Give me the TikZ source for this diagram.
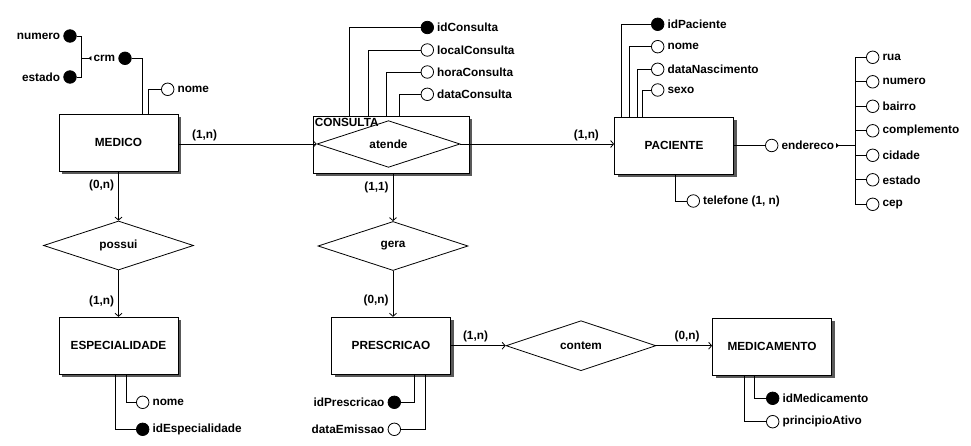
\documentclass[tikz,border=0pt]{standalone}
\usepackage{fontspec}
\setmainfont{Liberation Sans}
\usetikzlibrary{shapes.geometric,shadows,arrows.meta}

\tikzset{
  entity/.style={draw, fill=white, line width=0.8pt, minimum width=119pt, minimum height=57pt,
    drop shadow={shadow xshift=3pt, shadow yshift=-3pt, fill=black!65, opacity=1}},
  relation/.style={draw, diamond, line width=0.8pt, minimum width=150pt, minimum height=49pt, inner sep=0pt},
  attr/.style={draw, circle, line width=0.8pt, minimum size=12.5pt, inner sep=0pt, fill=white},
  key/.style={attr, fill=black},
  card/.style={inner sep=2pt},
  link/.style={line width=0.8pt},
  rel/.style={link, -{Straight Barb[length=3pt,width=7pt]}},
  joint/.style={link, {Latex[reversed,length=3pt,width=5pt]}-}
}

\begin{document}
\begin{tikzpicture}[x=1pt, y=-1pt, font=\bfseries\fontsize{11.8}{14}\selectfont,
  label distance=1pt, every label/.style={inner sep=2pt}]
\useasboundingbox (0,0) rectangle (971,446);

% entidades e relacionamentos
\node[entity] (medico) at (118.5,142.5) {MEDICO};
\node[entity, minimum width=156pt] (consulta) at (391,144.5) {};
\node[anchor=north west, inner sep=2pt] (consultatit) at (consulta.north west) {CONSULTA};
\node[relation, minimum width=143pt, minimum height=40pt] (atende) at (388.5,144) {atende};
\node[entity] (paciente) at (674,145.5) {PACIENTE};
\node[relation] (possui) at (118.5,245.5) {possui};
\node[entity] (especialidade) at (118.5,345.7) {ESPECIALIDADE};
\node[relation] (gera) at (393,246) {gera};
\node[entity] (prescricao) at (391,345.7) {PRESCRICAO};
\node[relation, minimum height=50pt] (contem) at (581,345.7) {contem};
\node[entity] (medicamento) at (772,346.7) {MEDICAMENTO};

% ligacoes
\draw[rel] (atende.west -| medico.east) -- node[card, pos=0.19, above=1pt] {(1,n)} (atende.west);
\draw[rel] (atende.east) -- node[card, pos=0.82, above=1pt] {(1,n)} (atende.east -| paciente.west);
\draw[rel] (medico.south) -- node[card, pos=0.28, left=2pt] {(0,n)} (possui.north);
\draw[rel] (possui.south) -- node[card, pos=0.66, left=2pt] {(1,n)} (especialidade.north);
\draw[rel] (gera.north |- consulta.south) -- node[card, pos=0.29, left=2pt] {(1,1)} (gera.north);
\draw[rel] (gera.south) -- node[card, pos=0.65, left=2pt] {(0,n)} (gera.south |- prescricao.north);
\draw[rel] (prescricao.east) -- node[card, pos=0.45, above=1pt] {(1,n)} (contem.west);
\draw[rel] (contem.east) -- node[card, pos=0.55, above=1pt] {(0,n)} (contem.east -| medicamento.west);

% atributos MEDICO
\node[key, label={[name=crmtit]left:crm}] (crm) at (125,58.3) {};
\node[key, label=left:numero] (numero) at (70,36) {};
\node[key, label=left:estado] (estado) at (70,77) {};
\coordinate (crmjoin) at (81.7,58.3);
\draw[link] (numero.east) -| (crmjoin) |- (estado.east);
\draw[joint] (crmtit.west) -- (crmjoin);
\draw[link] (crm.east) -| ([xshift=24pt]medico.north);
\node[attr, label=right:nome] (mednome) at (167.7,89.3) {};
\draw[link] (mednome.west) -| ([xshift=30pt]medico.north);

% atributos CONSULTA
\node[key, label=right:idConsulta] (consid) at (427.3,27.5) {};
\node[attr, label=right:localConsulta] (conslocal) at (427.3,50) {};
\node[attr, label=right:horaConsulta] (conshora) at (427.3,72) {};
\node[attr, label=right:dataConsulta] (consdata) at (427.3,94.3) {};
\draw[link] (consid.west) -| ([xshift=-42pt]consulta.north);
\draw[link] (conslocal.west) -| ([xshift=-23pt]consulta.north);
\draw[link] (conshora.west) -| ([xshift=-5pt]consulta.north);
\draw[link] (consdata.west) -| ([xshift=8pt]consulta.north);

% atributos PACIENTE
\node[key, label=right:idPaciente] (pacid) at (657.7,24.3) {};
\node[attr, label=right:nome] (pacnome) at (657.7,46.7) {};
\node[attr, label=right:dataNascimento] (pacnasc) at (657.7,69.3) {};
\node[attr, label=right:sexo] (pacsexo) at (657.7,90) {};
\draw[link] (pacid.west) -| ([xshift=-53pt]paciente.north);
\draw[link] (pacnome.west) -| ([xshift=-45pt]paciente.north);
\draw[link] (pacnasc.west) -| ([xshift=-37pt]paciente.north);
\draw[link] (pacsexo.west) -| ([xshift=-32pt]paciente.north);
\node[attr, label=right:{telefone (1, n)}] (pactel) at (693.3,201) {};
\draw[link] ([xshift=1pt]paciente.south) |- (pactel.west);
\node[attr, label={[name=pacendtit]right:endereco}] (pacend) at (771.7,145.5) {};
\draw[link] (paciente.east) -- (pacend.west);
\coordinate (endjoin) at (855,145.5);
\draw[joint] (pacendtit.east) -- (endjoin);
\foreach \tit [count=\i] in {rua,numero,bairro,complemento,cidade,estado,cep}
  \node[attr, label=right:\tit] (end\i) at (872.7,{57.3+24.5*(\i-1)}) {};
\draw[link] (end1.west) -| (endjoin) |- (end7.west);
\foreach \i in {2,...,6}
  \draw[link] (end\i.west) -- (end\i.west -| endjoin);

% atributos ESPECIALIDADE
\node[attr, label=right:nome] (espnome) at (142.7,402.3) {};
\node[key, label=right:idEspecialidade] (espid) at (142.7,429.3) {};
\draw[link] ([xshift=8pt]especialidade.south) |- (espnome.west);
\draw[link] ([xshift=-3.5pt]especialidade.south) |- (espid.west);

% atributos PRESCRICAO
\node[key, label=left:idPrescricao] (presid) at (394.3,402.3) {};
\node[attr, label=left:dataEmissao] (presdata) at (394.3,429.3) {};
\draw[link] ([xshift=23pt]prescricao.south) |- (presid.east);
\draw[link] ([xshift=34pt]prescricao.south) |- (presdata.east);

% atributos MEDICAMENTO
\node[key, label=right:idMedicamento] (medcid) at (772.7,398.3) {};
\node[attr, label=right:principioAtivo] (medcprin) at (772.7,421.7) {};
\draw[link] ([xshift=-18pt]medicamento.south) |- (medcid.west);
\draw[link] ([xshift=-28pt]medicamento.south) |- (medcprin.west);

\end{tikzpicture}
\end{document}
